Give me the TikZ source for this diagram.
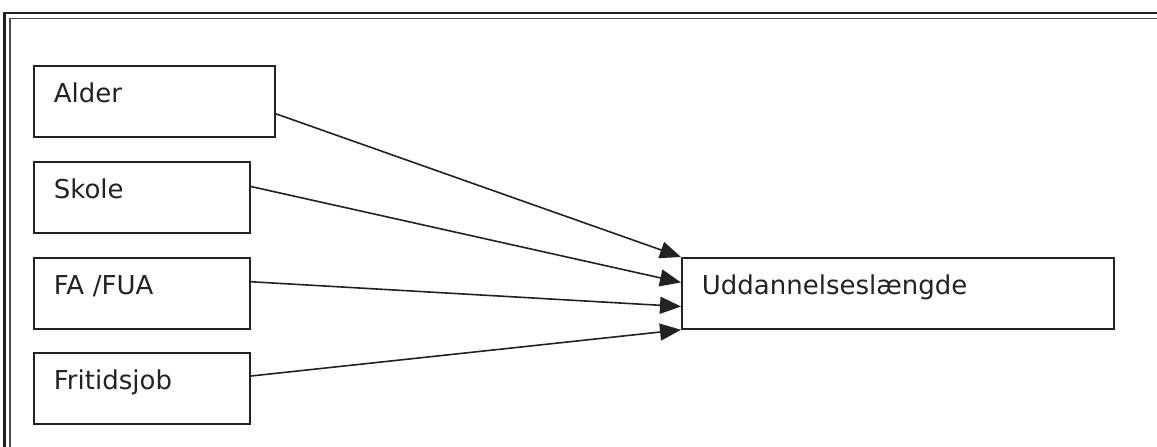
\documentclass[tikz,border=0pt]{standalone}
\usepackage{fontspec}
\setmainfont{DejaVu Sans}
\usepackage{tikz}
\usetikzlibrary{calc}
\usetikzlibrary{arrows.meta}
\definecolor{FrameGray}{HTML}{222222}
\tikzstyle{faktor} = [draw=FrameGray, line width=1.8pt, anchor=north west, inner xsep=20pt, inner ysep=0pt,
  text height=37pt, text depth=34pt, align=left, font=\fontsize{26pt}{30pt}\selectfont, text=FrameGray]
\tikzstyle{pil} = [draw=FrameGray, line width=1.6pt, -{Triangle[length=21pt,width=17pt]}]

\begin{document}
\begin{tikzpicture}[x=1pt,y=-1pt]

	\useasboundingbox (0,0) rectangle (1157,447);
	% ramme (tyk-tynd)
	\draw[FrameGray, line width=2.4pt] (4.5,460) |- (1170,13);
	\draw[FrameGray!80, line width=1.8pt] (10,460) |- (1170,18.5);

	% faktorer
	\node[faktor, text width=201pt] (alder) at (33,65) {Alder};
	\node[faktor, text width=176pt] (skole) at (33,161) {Skole};
	\node[faktor, text width=176pt] (fafua) at (33,257) {FA /FUA};
	\node[faktor, text width=176pt] (fritid) at (33,352) {Fritidsjob};
	\node[faktor, text width=392pt] (udd) at (681,257) {Uddannelseslængde};

	% pile
	\draw[pil] ($(alder.north east)!0.67!(alder.south east)$) -- (udd.north west);
	\draw[pil] ($(skole.north east)!0.35!(skole.south east)$) -- ($(udd.north west)!0.35!(udd.south west)$);
	\draw[pil] ($(fafua.north east)!0.34!(fafua.south east)$) -- ($(udd.north west)!0.68!(udd.south west)$);
	\draw[pil] ($(fritid.north east)!0.33!(fritid.south east)$) -- (udd.south west);

\end{tikzpicture}
\end{document}
